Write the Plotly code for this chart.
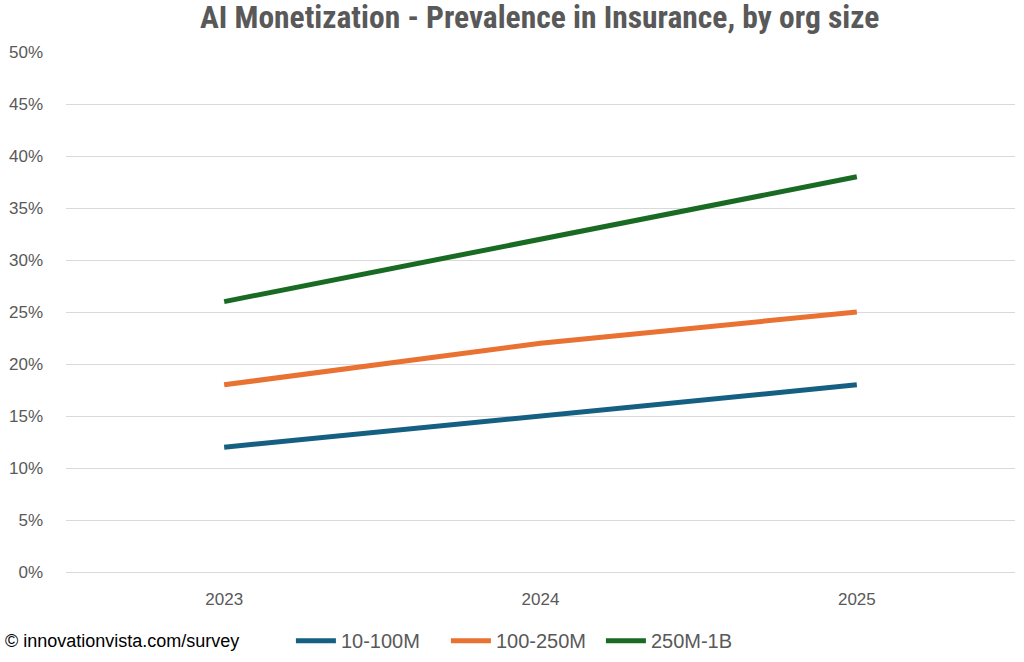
import plotly.graph_objects as go

years = ["2023", "2024", "2025"]
series_names = ["10-100M", "100-250M", "250M-1B"]
s_small = [0.12, 0.15, 0.18]
s_mid = [0.18, 0.22, 0.25]
s_large = [0.26, 0.32, 0.38]
colors = ["#156082", "#E97132", "#196B24"]
y_ticks = [i / 100 for i in range(0, 55, 5)]
y_tick_labels = [f"{i}%" for i in range(0, 55, 5)]

fig = go.Figure()
for name, vals, col in zip(series_names, [s_small, s_mid, s_large], colors):
    fig.add_trace(go.Scatter(x=years, y=vals, name=name, mode="lines",
                             line=dict(color=col, width=5)))

fig.update_layout(
    width=1024, height=662,
    paper_bgcolor="white", plot_bgcolor="white",
    margin=dict(l=66, r=9, t=52, b=90, autoexpand=False),
    title=dict(text="<b>AI Monetization - Prevalence in Insurance, by org size</b>",
               x=0.527, xanchor="center", y=0.975, yanchor="middle",
               font=dict(family="Liberation Sans Narrow, Roboto Condensed, sans-serif", size=31.5, color="#595959")),
    font=dict(family="Liberation Sans, Arial, sans-serif", color="#595959", size=17),
    xaxis=dict(type="category", range=[-0.5, 2.5], showgrid=False, showline=True,
               linecolor="#D9D9D9", linewidth=1, ticks="", ticklabelstandoff=12,
               tickfont=dict(size=17, color="#595959")),
    yaxis=dict(range=[0, 0.5], tickvals=y_ticks, ticktext=y_tick_labels,
               showgrid=True, gridcolor="#D9D9D9", gridwidth=1, zeroline=False,
               showline=False, ticks="", ticklabelstandoff=22, tickfont=dict(size=17, color="#595959")),
    legend=dict(orientation="h", x=0.237, xanchor="left", y=-0.132, yanchor="middle",
                font=dict(family="Liberation Sans Narrow, sans-serif", size=20, color="#595959"),
                itemwidth=40, tracegroupgap=0, entrywidth=100),
    showlegend=True,
)

fig.add_annotation(text="© innovationvista.com/survey", xref="paper", yref="paper",
                   x=-0.066, xanchor="left", y=-0.132, yanchor="middle", showarrow=False,
                   font=dict(family="Liberation Sans Narrow, sans-serif", size=18, color="#000000"))

fig.write_html("out.html", config={"displayModeBar": False},
               post_script="document.body.style.margin='0';")
